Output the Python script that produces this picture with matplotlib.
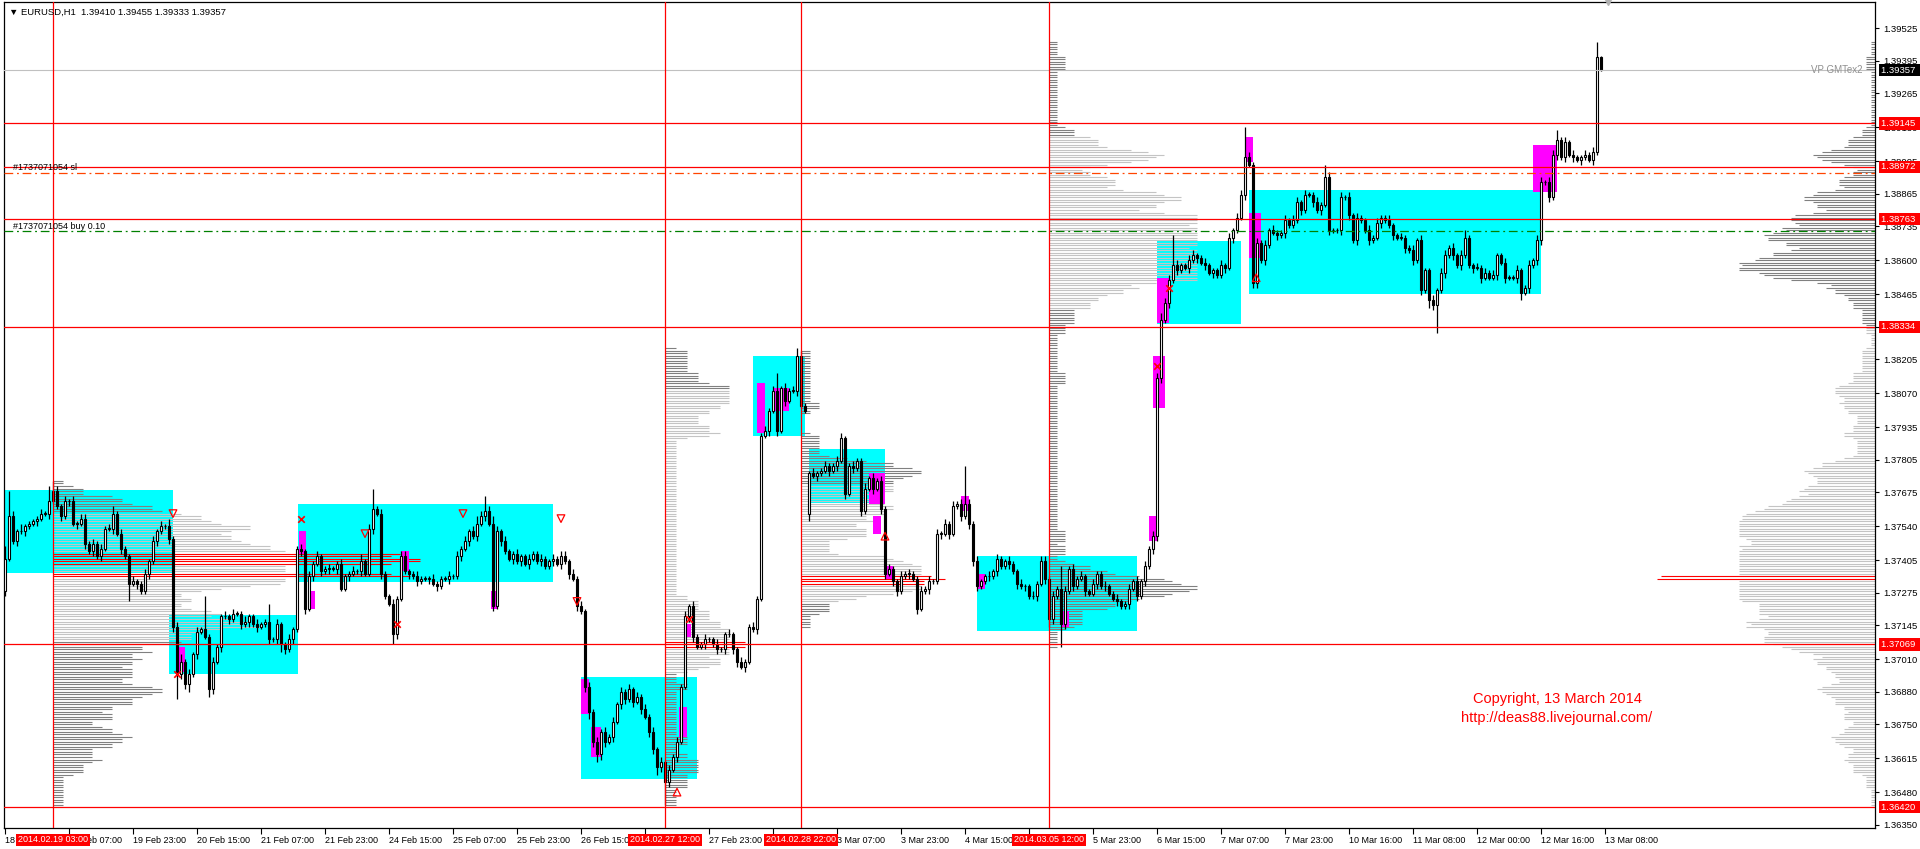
import numpy as np
import matplotlib
matplotlib.use("Agg")
import matplotlib.pyplot as plt
from matplotlib.patches import Rectangle

plt.rcParams['font.family'] = ['Liberation Sans', 'DejaVu Sans']

# ---- hourly EURUSD closes, bar 0 = 18 Feb 15:00 ----
closes = [
    1.3741, 1.3758, 1.3748, 1.3752, 1.3752, 1.3754, 1.3755, 1.3756, 1.3757, 1.3759,
    1.3759, 1.3764, 1.3768, 1.3762, 1.3758, 1.3764, 1.3764, 1.3755, 1.3755, 1.3757,
    1.3747, 1.3744, 1.3747, 1.3742, 1.3745, 1.3753, 1.3753, 1.3759, 1.3751, 1.3745,
    1.3742, 1.3731, 1.3732, 1.3731, 1.3728, 1.3735, 1.3740, 1.3748, 1.3752, 1.3754,
    1.3754, 1.3749, 1.3714, 1.3695, 1.3700, 1.3691, 1.3695, 1.3703, 1.3712, 1.3713,
    1.3710, 1.3689, 1.3700, 1.3706, 1.3718, 1.3718, 1.3717, 1.3719, 1.3719, 1.3715,
    1.3716, 1.3718, 1.3715, 1.3714, 1.3715, 1.3716, 1.3709, 1.3709, 1.3715, 1.3707,
    1.3705, 1.3709, 1.3713, 1.3745, 1.3744, 1.3721, 1.3734, 1.3739, 1.3742, 1.3736,
    1.3737, 1.3737, 1.3737, 1.3739, 1.3729, 1.3734, 1.3735, 1.3736, 1.3736, 1.3740,
    1.3735, 1.3753, 1.3761, 1.3759, 1.3735, 1.3726, 1.3723, 1.3711, 1.3725, 1.3742,
    1.3736, 1.3735, 1.3734, 1.3732, 1.3733, 1.3733, 1.3733, 1.3731, 1.3730, 1.3733,
    1.3733, 1.3734, 1.3734, 1.3742, 1.3745, 1.3748, 1.3752, 1.3750, 1.3755, 1.3758,
    1.3760, 1.3755, 1.3722, 1.3752, 1.3748, 1.3744, 1.3741, 1.3743, 1.3740, 1.3742,
    1.3739, 1.3741, 1.3743, 1.3740, 1.3741, 1.3738, 1.3740, 1.3741, 1.3739, 1.3742,
    1.3740, 1.3735, 1.3733, 1.3722, 1.3720, 1.3690, 1.3680, 1.3668, 1.3663, 1.3672,
    1.3668, 1.3670, 1.3676, 1.3683, 1.3688, 1.3685, 1.3689, 1.3684, 1.3686, 1.3681,
    1.3678, 1.3672, 1.3665, 1.3658, 1.3660, 1.3652, 1.3657, 1.3662, 1.3668, 1.3690,
    1.3718, 1.3722, 1.3710, 1.3706, 1.3707, 1.3709, 1.3709, 1.3707, 1.3705, 1.3705,
    1.3711, 1.3711, 1.3705, 1.3700, 1.3698, 1.3700, 1.3714, 1.3713, 1.3725, 1.3790,
    1.3792, 1.3800, 1.3808, 1.3792, 1.3809, 1.3804, 1.3808, 1.3808, 1.3822, 1.3802,
    1.3800, 1.3775, 1.3774, 1.3775, 1.3776, 1.3778, 1.3776, 1.3778, 1.3780, 1.3789,
    1.3767, 1.3778, 1.3777, 1.3780, 1.3760, 1.3769, 1.3773, 1.3769, 1.3772, 1.3761,
    1.3735, 1.3737, 1.3732, 1.3728, 1.3734, 1.3735, 1.3735, 1.3733, 1.3721, 1.3728,
    1.3729, 1.3732, 1.3732, 1.3751, 1.3751, 1.3755, 1.3751, 1.3762, 1.3763, 1.3758,
    1.3763, 1.3755, 1.3740, 1.3730, 1.3732, 1.3734, 1.3734, 1.3736, 1.3741, 1.3738,
    1.3740, 1.3739, 1.3736, 1.3731, 1.3730, 1.3730, 1.3726, 1.3726, 1.3731, 1.3740,
    1.3733, 1.3717, 1.3726, 1.3729, 1.3715, 1.3728, 1.3737, 1.3730, 1.3733, 1.3734,
    1.3728, 1.3727, 1.3731, 1.3735, 1.3730, 1.3730, 1.3727, 1.3725, 1.3724, 1.3722,
    1.3723, 1.3729, 1.3732, 1.3726, 1.3732, 1.3738, 1.3745, 1.3750, 1.3813, 1.3836,
    1.3843, 1.3852, 1.3858, 1.3856, 1.3858, 1.3857, 1.3860, 1.3862, 1.3861, 1.3859,
    1.3858, 1.3855, 1.3856, 1.3854, 1.3858, 1.3857, 1.3869, 1.3872, 1.3877, 1.3886,
    1.3901, 1.3898, 1.3851, 1.3867, 1.3860, 1.3866, 1.3872, 1.3871, 1.3870, 1.3871,
    1.3876, 1.3874, 1.3876, 1.3883, 1.3880, 1.3886, 1.3886, 1.3883, 1.3880, 1.3882,
    1.3893, 1.3872, 1.3872, 1.3872, 1.3885, 1.3885, 1.3878, 1.3868, 1.3877, 1.3876,
    1.3872, 1.3868, 1.3869, 1.3875, 1.3877, 1.3876, 1.3874, 1.3870, 1.3869, 1.3869,
    1.3865, 1.3864, 1.3860, 1.3868, 1.3848, 1.3856, 1.3844, 1.3842, 1.3848, 1.3855,
    1.3862, 1.3865, 1.3862, 1.3858, 1.3862, 1.3869, 1.3858, 1.3857, 1.3857, 1.3853,
    1.3855, 1.3853, 1.3854, 1.3862, 1.3859, 1.3853, 1.3853, 1.3853, 1.3856, 1.3847,
    1.3849, 1.3858, 1.3860, 1.3868, 1.3891, 1.3891, 1.3885, 1.3902, 1.3908, 1.3901,
    1.3907, 1.3902, 1.3901, 1.3900, 1.3901, 1.3902, 1.3900, 1.3903, 1.3941, 1.39357,
]
first_open = 1.3728
gap_opens = {201: 1.3759}   # Monday 3 Mar gap

# wick lengths in pips above / below the body
wick_up = [
    5, 10, 2, 1, 3, 1, 1, 1, 1, 2, 1, 6, 4, 2, 1, 2, 1, 2, 1, 2,
    2, 1, 2, 1, 2, 1, 2, 3, 1, 2, 1, 1, 2, 1, 1, 2, 1, 2, 1, 2,
    1, 3, 1, 2, 3, 1, 2, 1, 2, 1, 13, 1, 2, 1, 1, 2, 1, 2, 1, 1,
    2, 1, 1, 2, 1, 1, 7, 1, 2, 1, 1, 2, 1, 1, 2, 1, 2, 1, 2, 1,
    1, 2, 1, 1, 2, 1, 1, 2, 1, 3, 1, 2, 8, 1, 2, 1, 1, 2, 1, 2,
    2, 1, 1, 2, 1, 1, 1, 2, 1, 1, 1, 2, 1, 2, 1, 2, 1, 2, 3, 2,
    6, 2, 3, 2, 1, 2, 1, 1, 2, 1, 1, 2, 1, 1, 2, 1, 1, 2, 1, 2,
    2, 1, 2, 1, 2, 1, 2, 1, 2, 1, 2, 1, 2, 1, 2, 1, 2, 1, 2, 1,
    2, 1, 2, 1, 2, 1, 2, 1, 2, 1, 2, 1, 2, 1, 1, 2, 1, 1, 2, 1,
    1, 2, 1, 1, 2, 1, 1, 2, 1, 1, 2, 1, 2, 7, 1, 2, 1, 2, 3, 2,
    1, 1, 2, 1, 1, 2, 1, 1, 2, 2, 1, 1, 2, 1, 1, 2, 1, 2, 1, 2,
    1, 2, 1, 1, 2, 1, 2, 1, 1, 2, 1, 2, 1, 2, 1, 2, 1, 2, 1, 2,
    15, 2, 1, 2, 1, 1, 2, 1, 2, 1, 1, 2, 1, 1, 2, 1, 1, 2, 1, 2,
    2, 1, 2, 1, 9, 2, 1, 2, 1, 2, 1, 1, 2, 1, 1, 2, 1, 1, 2, 1,
    1, 2, 1, 2, 1, 2, 1, 2, 2, 3,
    2, 2, 12, 2, 1, 1, 2, 2, 1, 1, 2, 1, 1, 1, 2, 1, 2, 1, 2, 2, 12, 2, 1,
    2, 1, 2, 1, 2, 1, 1, 2, 1, 2,
    2, 1, 2, 1, 1, 2, 1, 5, 2, 1, 1, 2, 1, 2, 1, 2, 1, 1, 2, 1,
    2, 1, 1, 2, 1, 1, 2, 1, 1, 2, 1, 2, 1, 1, 2, 1, 2, 2, 1, 2,
    1, 2, 3, 1, 1, 2, 1, 2,
    1, 2, 1, 1, 2, 1, 1, 2, 1, 1, 2, 1, 2,
    2, 1, 2, 2, 4, 1, 2, 1, 2, 1, 1, 2, 1, 2, 6, 0.45,
]
wick_dn = [
    2, 1, 1, 2, 1, 2, 1, 1, 2, 1, 1, 2, 1, 1, 2, 1, 2, 1, 2, 1,
    2, 1, 2, 1, 2, 1, 1, 2, 1, 2, 1, 7, 1, 2, 1, 1, 2, 1, 2, 1,
    1, 2, 2, 10, 2, 2, 3, 1, 2, 1, 1, 3, 2, 1, 2, 1, 2, 1, 1, 2,
    1, 2, 1, 2, 1, 1, 2, 1, 2, 3, 2, 1, 2, 1, 2, 2, 1, 2, 1, 2,
    1, 2, 1, 2, 1, 1, 2, 1, 1, 2, 1, 1, 2, 1, 2, 1, 1, 4, 2, 1,
    1, 2, 1, 2, 1, 1, 2, 1, 2, 1, 1, 2, 1, 1, 2, 1, 2, 1, 2, 1,
    2, 1, 2, 1, 2, 1, 1, 2, 1, 2, 1, 2, 1, 1, 2, 1, 1, 2, 1, 2,
    1, 2, 1, 2, 1, 2, 3, 2, 3, 2, 2, 1, 2, 1, 2, 2, 1, 2, 1, 2,
    1, 2, 2, 3, 2, 9, 2, 1, 2, 1, 1, 2, 2, 1, 1, 2, 1, 1, 2, 1,
    2, 1, 2, 2, 1, 2, 1, 1, 2, 1, 1, 2, 1, 2, 1, 2, 1, 1, 2, 1,
    1, 3, 1, 2, 1, 1, 2, 1, 2, 1, 2, 1, 2, 1, 2, 1, 1, 2, 1, 2,
    2, 1, 2, 2, 1, 1, 2, 1, 2, 1, 1, 2, 1, 1, 2, 1, 2, 1, 1, 2,
    1, 2, 2, 2, 1, 1, 2, 1, 2, 1, 1, 2, 1, 2, 1, 2, 1, 1, 2, 1,
    2, 3, 2, 1, 9, 2, 1, 2, 1, 1, 2, 1, 1, 2, 1, 2, 1, 1, 2, 1,
    1, 2, 1, 2, 1, 2, 1, 2, 2, 2,
    1, 2, 1, 2, 1, 1, 2, 1, 2, 1, 2, 1, 2, 1, 1, 2, 1, 2, 1, 1, 2, 1, 2,
    2, 1, 2, 1, 1, 2, 1, 2, 1, 1,
    1, 2, 1, 1, 2, 1, 2, 1, 2, 1, 1, 2, 1, 2, 1, 2, 1, 1, 2, 1,
    1, 2, 1, 1, 2, 1, 1, 2, 1, 2, 1, 2, 1, 3, 2, 11, 1, 2, 1, 2,
    1, 2, 1, 1, 2, 1, 2, 1,
    1, 1, 2, 1, 2, 1, 1, 2, 3, 1, 2, 1, 2,
    2, 1, 2, 1, 2, 1, 2, 1, 2, 1, 2, 1, 1, 2, 1, 0.24,
]

# key levels
red_levels = [1.39145, 1.38972, 1.38763, 1.38334, 1.37069, 1.36420]
bid = 1.39357
sl_level = 1.38948
buy_level = 1.38715
vlines_bars = [12, 165, 199, 261]
vline_labels = ["2014.02.19 03:00", "2014.02.27 12:00", "2014.02.28 22:00", "2014.03.05 12:00"]

# value-area boxes (bar_from, bar_to, low, high)
cyan_boxes = [
    (-0.25, 41.9, 1.37355, 1.37684), (41.1, 73.2, 1.36951, 1.37186),
    (73.2, 137.0, 1.37319, 1.37629), (144.0, 173.0, 1.36533, 1.36938),
    (187.1, 200.0, 1.37901, 1.38218), (201.1, 220.0, 1.37631, 1.37848),
    (243.1, 283.0, 1.37124, 1.37421), (288.0, 309.0, 1.38345, 1.38678),
    (311.0, 384.0, 1.38465, 1.38879),
]
magenta_boxes = [
    (43.4, 45.0, 1.3696, 1.3706), (73.4, 75.2, 1.3743, 1.3752), (75.8, 77.5, 1.3721, 1.3728),
    (99.0, 101.0, 1.3736, 1.3744), (121.5, 123.0, 1.3721, 1.3728), (144.0, 146.0, 1.3679, 1.3693),
    (146.5, 149.0, 1.3662, 1.3674), (168.5, 170.5, 1.3670, 1.3682), (170.0, 171.5, 1.3710, 1.3715),
    (187.9, 190.0, 1.3791, 1.3811), (192.0, 196.0, 1.3800, 1.3809), (216.0, 220.0, 1.3763, 1.3775),
    (217.0, 219.0, 1.3751, 1.3758), (220.0, 222.0, 1.3733, 1.3738), (239.0, 241.0, 1.3760, 1.3766),
    (243.0, 245.0, 1.3729, 1.3735), (264.0, 266.0, 1.3714, 1.3720), (286.0, 288.0, 1.3748, 1.3758),
    (287.0, 290.0, 1.3801, 1.3822), (288.0, 290.9, 1.3835, 1.3853), (310.1, 312.0, 1.3899, 1.3909),
    (311.0, 314.0, 1.3861, 1.3879), (382.0, 388.0, 1.3887, 1.3906),
]
x_marks = [(43, 1.3695), (74, 1.3757), (98, 1.3715), (171, 1.3717), (288, 1.3818), (290.9, 1.3849)]
down_arrows = [(42, 1.3759), (90, 1.3751), (114.5, 1.3759), (139, 1.3757), (143, 1.3724)]
up_arrows = [(168, 1.3648), (220, 1.3750), (312.8, 1.3853)]

xtick_labels = ["18 Feb 15:00", "19 Feb 07:00", "19 Feb 23:00", "20 Feb 15:00", "21 Feb 07:00",
                "21 Feb 23:00", "24 Feb 15:00", "25 Feb 07:00", "25 Feb 23:00", "26 Feb 15:00",
                "27 Feb 07:00", "27 Feb 23:00", "28 Feb 15:00", "3 Mar 07:00", "3 Mar 23:00",
                "4 Mar 15:00", "5 Mar 07:00", "5 Mar 23:00", "6 Mar 15:00", "7 Mar 07:00",
                "7 Mar 23:00", "10 Mar 16:00", "11 Mar 08:00", "12 Mar 00:00", "12 Mar 16:00",
                "13 Mar 08:00"]
yticks = [1.39525, 1.39395, 1.39265, 1.39130, 1.38995, 1.38865, 1.38735, 1.38600, 1.38465,
          1.38335, 1.38205, 1.38070, 1.37935, 1.37805, 1.37675, 1.37540, 1.37405, 1.37275,
          1.37145, 1.37010, 1.36880, 1.36750, 1.36615, 1.36480, 1.36350]

# ---- build OHLC ----
n = len(closes)
closes = np.array(closes)
opens = np.concatenate([[first_open], closes[:-1]])
for k, v in gap_opens.items():
    opens[k] = v
highs = np.maximum(opens, closes) + np.array(wick_up) * 1e-4
lows = np.minimum(opens, closes) - np.array(wick_dn) * 1e-4
bars = np.arange(n)

LIGHT = '#c4c4c4'
DARK = '#808080'


def tpo_profile(b0, b1):
    lo = int(np.floor(lows[b0:b1 + 1].min() * 1e4))
    hi = int(np.ceil(highs[b0:b1 + 1].max() * 1e4))
    counts = np.zeros(hi - lo + 1)
    for i in range(b0, b1 + 1):
        a = int(np.ceil(lows[i] * 1e4 - 1e-6)) - lo
        b = int(np.floor(highs[i] * 1e4 + 1e-6)) - lo
        counts[a:b + 1] += 1
    return np.arange(lo, hi + 1) / 1e4, counts


def value_area(counts, share=0.7):
    poc = int(np.argmax(counts))
    lo = hi = poc
    total = counts[poc]
    while total < share * counts.sum():
        up = counts[hi + 1] if hi + 1 < len(counts) else -1
        dn = counts[lo - 1] if lo > 0 else -1
        if up >= dn:
            hi += 1
            total += up
        else:
            lo -= 1
            total += dn
    return lo, hi


def draw_profile(ax, b0, b1, anchor, longest, side=1, red_thr=0.92, red_k=1.5, dark_above=None):
    levels, counts = tpo_profile(b0, b1)
    idx = np.arange(len(levels))
    if dark_above is None:
        lo, hi = value_area(counts)
        cols = np.where((idx >= lo) & (idx <= hi), LIGHT, DARK).astype(object)
    else:
        cols = np.where(levels >= dark_above, DARK, LIGHT).astype(object)
    top = np.percentile(counts[counts > 0], 90)
    lengths = np.minimum(counts / top, 1.0) * longest
    if red_thr is not None:
        red = counts >= red_thr * counts.max()
        lengths[red] = longest * red_k * counts[red] / counts.max()
        cols[red] = '#ff0000'
    ends = anchor + side * lengths
    ax.hlines(levels, np.minimum(anchor, ends), np.maximum(anchor, ends),
              colors=list(cols), lw=0.8, zorder=2)


# ---- figure ----
fig = plt.figure(figsize=(19.2, 8.49), dpi=100)
ax = fig.add_axes([4 / 1920, 21 / 849, 1871 / 1920, 826 / 849])
xmax = 467.5
ax.set_xlim(-0.25, xmax)
ax.set_ylim(1.36337, 1.39629)

for b0, b1, lo, hi in cyan_boxes:
    ax.add_patch(Rectangle((b0, lo), b1 - b0, hi - lo, color='#00ffff', lw=0, zorder=1))

draw_profile(ax, 12, 165, 12, longest=58, red_k=1.58)
draw_profile(ax, 165, 199, 165, longest=16, red_k=1.25)
draw_profile(ax, 199, 261, 199, longest=30, red_thr=0.85, red_k=1.2)
draw_profile(ax, 261, n - 1, 261, longest=37, red_thr=None)
draw_profile(ax, 0, n - 1, xmax, longest=34, side=-1, red_k=1.6, dark_above=1.38334)

for b0, b1, lo, hi in magenta_boxes:
    ax.add_patch(Rectangle((b0, lo), b1 - b0, hi - lo, color='#ff00ff', lw=0, zorder=3))

# candles
ax.vlines(bars, lows, highs, color='black', lw=0.9, zorder=4)
bull = closes >= opens
body_lo = np.minimum(opens, closes)
body_h = np.maximum(np.abs(closes - opens), 0.00002)
ax.bar(bars[bull], body_h[bull], bottom=body_lo[bull], width=0.55,
       facecolor='white', edgecolor='black', lw=0.8, zorder=5)
ax.bar(bars[~bull], body_h[~bull], bottom=body_lo[~bull], width=0.55,
       facecolor='black', edgecolor='black', lw=0.8, zorder=5)

# levels
for p in red_levels:
    ax.axhline(p, color='#ff0000', lw=0.9, zorder=6)
ax.axhline(bid, color='#c0c0c0', lw=0.8, zorder=6)
ax.axhline(sl_level, color='#ff4500', lw=0.9, ls=(0, (7, 3, 1.5, 3)), zorder=6)
ax.axhline(buy_level, color='#008000', lw=0.9, ls=(0, (7, 3, 1.5, 3)), zorder=6)
for b in vlines_bars:
    ax.axvline(b, color='#ff0000', lw=0.9, zorder=6)

ax.scatter(*zip(*x_marks), marker='x', color='#ff0000', s=22, lw=1.2, zorder=7)
ax.scatter(*zip(*down_arrows), marker='v', facecolors='none', edgecolors='#ff0000', s=30, lw=0.9, zorder=7)
ax.scatter(*zip(*up_arrows), marker='^', facecolors='none', edgecolors='#ff0000', s=30, lw=0.9, zorder=7)

ax.text(2, sl_level + 0.00003, "#1737071054 sl", fontsize=6.5, va='bottom', zorder=8)
ax.text(2, buy_level + 0.00003, "#1737071054 buy 0.10", fontsize=6.5, va='bottom', zorder=8)
ax.text(xmax - 3, bid, "VP GMTex2", fontsize=7, color='#909090', ha='right', va='center', zorder=8)
ax.text(388, 1.3685, "Copyright, 13 March 2014", fontsize=10.5, color='#ff0000', ha='center', va='center')
ax.text(388, 1.36775, "http://deas88.livejournal.com/", fontsize=10.5, color='#ff0000', ha='center', va='center')
fig.text(9 / 1920, 1 - 12 / 849, "\u25bc EURUSD,H1  1.39410 1.39455 1.39333 1.39357", fontsize=6.8,
         va='center')
ax.plot([400.75], [1.39629], marker='v', color='#b0b0b0', ms=5, clip_on=False, zorder=9)

# axes styling
for s in ax.spines.values():
    s.set_color('black')
    s.set_linewidth(0.9)
ax.yaxis.tick_right()
ax.set_yticks(yticks)
ax.set_yticklabels(["%.5f" % v for v in yticks], fontsize=6.8)
ax.tick_params(axis='y', length=3, pad=3, width=0.8)

# bottom labels hidden entirely behind a date box are left blank
xt = np.arange(len(xtick_labels)) * 16
shown = []
for t, lbl in zip(xt, xtick_labels):
    hidden = any(t >= c - 9.5 and t + 13.5 <= c + 9.5 for c in vlines_bars)
    shown.append("" if hidden else lbl)
ax.set_xticks(xt)
ax.set_xticklabels(shown, fontsize=6.5)
ax.tick_params(axis='x', length=4, pad=2, width=0.8)
for lbl in ax.get_xticklabels():
    lbl.set_horizontalalignment('left')

for p in red_levels:
    ax.annotate("%.5f  " % p, xy=(1, p), xycoords=('axes fraction', 'data'), xytext=(4, 0),
                textcoords='offset points', fontsize=6.8, color='white', va='center', ha='left',
                bbox=dict(boxstyle='square,pad=0.18', fc='#ff0000', ec='none'),
                annotation_clip=False, zorder=10)
ax.annotate("%.5f  " % bid, xy=(1, bid), xycoords=('axes fraction', 'data'), xytext=(4, 0),
            textcoords='offset points', fontsize=6.8, color='white', va='center', ha='left',
            bbox=dict(boxstyle='square,pad=0.18', fc='black', ec='none'),
            annotation_clip=False, zorder=10)
for b, txt in zip(vlines_bars, vline_labels):
    ax.annotate(txt, xy=(b, 0), xycoords=('data', 'axes fraction'), xytext=(0, -8.5),
                textcoords='offset points', fontsize=6.5, color='white', va='center', ha='center',
                bbox=dict(boxstyle='square,pad=0.2', fc='#ff0000', ec='none'),
                annotation_clip=False, zorder=10)

fig.savefig("out.png", dpi=100, facecolor='white')
